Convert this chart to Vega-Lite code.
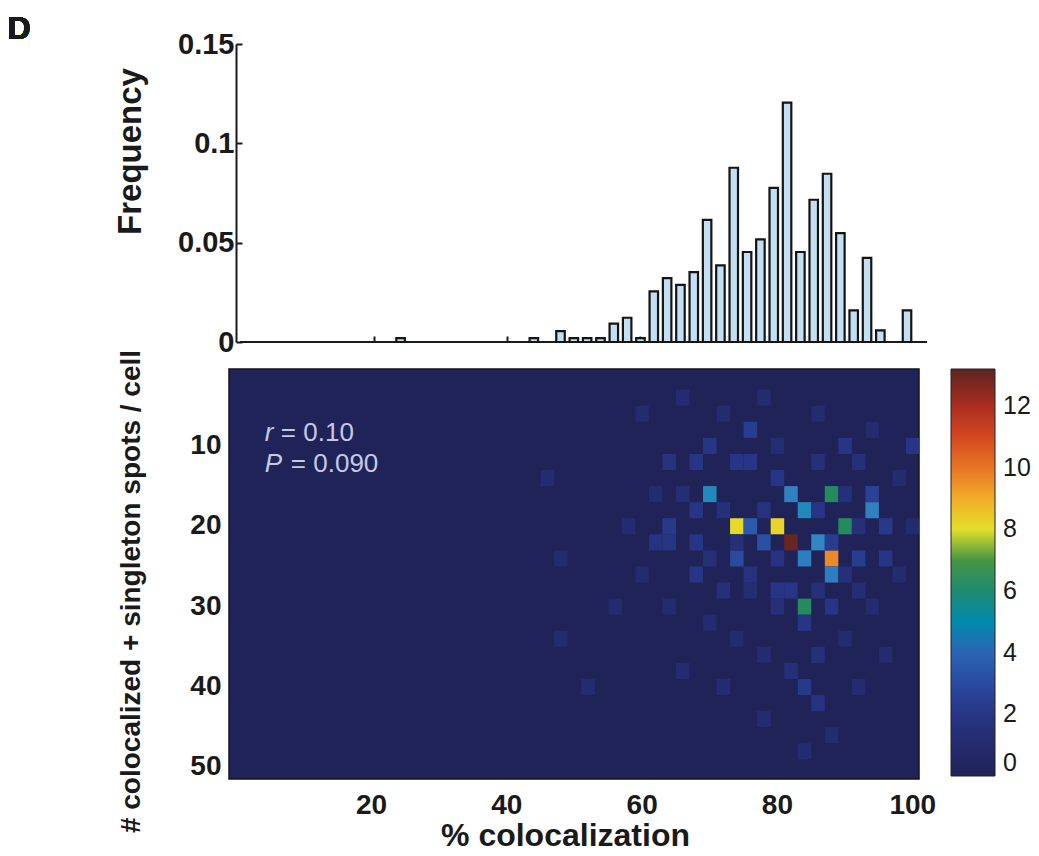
{
  "$schema": "https://vega.github.io/schema/vega-lite/v6.json",
  "background": "white",
  "padding": {"left": 7, "top": 13, "right": 4, "bottom": 4},
  "config": {
    "font": "Liberation Sans",
    "view": {"stroke": null},
    "axis": {"labelColor": "#1a1a1a", "titleColor": "#1a1a1a", "grid": false}
  },
  "spacing": 27,
  "bounds": "flush",
  "resolve": {
    "scale": {"x": "independent", "y": "independent", "color": "independent"},
    "legend": {"color": "independent"}
  },
  "vconcat": [
    {
      "width": 703,
      "height": 298,
      "data": {
        "values": [
          {"pct": 24, "freq": 0.002},
          {"pct": 44, "freq": 0.002},
          {"pct": 48, "freq": 0.0055},
          {"pct": 50, "freq": 0.002},
          {"pct": 52, "freq": 0.002},
          {"pct": 54, "freq": 0.002},
          {"pct": 56, "freq": 0.0092},
          {"pct": 58, "freq": 0.0122},
          {"pct": 60, "freq": 0.002},
          {"pct": 62, "freq": 0.0255},
          {"pct": 64, "freq": 0.0322},
          {"pct": 66, "freq": 0.0288},
          {"pct": 68, "freq": 0.0352},
          {"pct": 70, "freq": 0.0615},
          {"pct": 72, "freq": 0.0386},
          {"pct": 74, "freq": 0.0877},
          {"pct": 76, "freq": 0.0453},
          {"pct": 78, "freq": 0.0517},
          {"pct": 80, "freq": 0.0776},
          {"pct": 82, "freq": 0.1205},
          {"pct": 84, "freq": 0.0453},
          {"pct": 86, "freq": 0.0716},
          {"pct": 88, "freq": 0.0847},
          {"pct": 90, "freq": 0.0548},
          {"pct": 92, "freq": 0.0159},
          {"pct": 94, "freq": 0.0423},
          {"pct": 96, "freq": 0.0059},
          {"pct": 100, "freq": 0.0159}
        ]
      },
      "layer": [
        {
          "mark": {"type": "rule", "stroke": "#1a1a1a", "strokeWidth": 2},
          "encoding": {
            "x": {"datum": 0, "type": "quantitative", "scale": {"domain": [-1, 103], "nice": false, "zero": false}},
            "x2": {"datum": 103},
            "y": {"datum": 0, "type": "quantitative", "scale": {"domain": [0, 0.15], "nice": false}}
          }
        },
        {
          "mark": {"type": "bar", "width": 8.5, "fill": "#c4def2", "stroke": "#141414", "strokeWidth": 2.2},
          "encoding": {
            "x": {
              "field": "pct",
              "type": "quantitative",
              "scale": {"domain": [-1, 103], "nice": false, "zero": false},
              "axis": {
                "values": [20, 40, 60, 80, 100],
                "labels": false,
                "domain": false,
                "ticks": true,
                "tickSize": -6,
                "tickWidth": 2,
                "tickColor": "#1a1a1a",
                "title": null
              }
            },
            "y": {
              "field": "freq",
              "type": "quantitative",
              "scale": {"domain": [0, 0.15], "nice": false},
              "axis": {
                "values": [0, 0.05, 0.1, 0.15],
                "format": "~g",
                "offset": -7,
                "domain": true,
                "domainColor": "#1a1a1a",
                "domainWidth": 2,
                "tickSize": -6,
                "tickWidth": 2,
                "tickColor": "#1a1a1a",
                "labelFontSize": 29,
                "labelFontWeight": "bold",
                "labelPadding": 8,
                "title": "Frequency",
                "titleFontSize": 33,
                "titleFontWeight": "bold",
                "titleX": -89,
                "titleY": 107
              }
            }
          }
        },
        {
          "mark": {"type": "text", "text": "D", "align": "left", "baseline": "top", "fontSize": 32, "fontWeight": "bold", "color": "#1a1a1a"},
          "encoding": {
            "x": {"datum": -35.0, "type": "quantitative", "scale": {"domain": [-1, 103], "nice": false, "zero": false}},
            "y": {"datum": 0.1651, "type": "quantitative", "scale": {"domain": [0, 0.15], "nice": false}}
          }
        }
      ]
    },
    {
      "width": 690,
      "height": 410,
      "view": {"fill": "#1f2357", "stroke": "#151515", "strokeWidth": 1.5},
      "layer": [
        {
          "data": {
            "values": [
              {"pct_from": 73, "spots_from": 19, "n": 8.1},
              {"pct_from": 79, "spots_from": 19, "n": 8.2},
              {"pct_from": 81, "spots_from": 21, "n": 13},
              {"pct_from": 87, "spots_from": 23, "n": 9.6},
              {"pct_from": 69, "spots_from": 15, "n": 4.8},
              {"pct_from": 81, "spots_from": 15, "n": 4.6},
              {"pct_from": 87, "spots_from": 15, "n": 6.3},
              {"pct_from": 83, "spots_from": 17, "n": 4.8},
              {"pct_from": 93, "spots_from": 17, "n": 4.6},
              {"pct_from": 89, "spots_from": 19, "n": 6.3},
              {"pct_from": 75, "spots_from": 19, "n": 3.6},
              {"pct_from": 77, "spots_from": 21, "n": 3.2},
              {"pct_from": 85, "spots_from": 21, "n": 4.7},
              {"pct_from": 83, "spots_from": 23, "n": 4.5},
              {"pct_from": 73, "spots_from": 23, "n": 3.0},
              {"pct_from": 87, "spots_from": 25, "n": 4.5},
              {"pct_from": 83, "spots_from": 29, "n": 6.3},
              {"pct_from": 75, "spots_from": 7, "n": 2.4},
              {"pct_from": 69, "spots_from": 9, "n": 2},
              {"pct_from": 67, "spots_from": 11, "n": 2},
              {"pct_from": 63, "spots_from": 11, "n": 1.6},
              {"pct_from": 73, "spots_from": 11, "n": 2},
              {"pct_from": 75, "spots_from": 11, "n": 2},
              {"pct_from": 79, "spots_from": 13, "n": 2},
              {"pct_from": 89, "spots_from": 9, "n": 2},
              {"pct_from": 91, "spots_from": 11, "n": 1.5},
              {"pct_from": 99, "spots_from": 9, "n": 2},
              {"pct_from": 93, "spots_from": 15, "n": 2.6},
              {"pct_from": 67, "spots_from": 17, "n": 2},
              {"pct_from": 63, "spots_from": 19, "n": 2.2},
              {"pct_from": 61, "spots_from": 21, "n": 1.8},
              {"pct_from": 63, "spots_from": 21, "n": 2},
              {"pct_from": 67, "spots_from": 21, "n": 2},
              {"pct_from": 73, "spots_from": 21, "n": 1.5},
              {"pct_from": 87, "spots_from": 21, "n": 2.4},
              {"pct_from": 91, "spots_from": 23, "n": 2.4},
              {"pct_from": 95, "spots_from": 23, "n": 2},
              {"pct_from": 95, "spots_from": 19, "n": 2.2},
              {"pct_from": 67, "spots_from": 25, "n": 2},
              {"pct_from": 79, "spots_from": 27, "n": 2},
              {"pct_from": 81, "spots_from": 27, "n": 2},
              {"pct_from": 87, "spots_from": 29, "n": 2},
              {"pct_from": 79, "spots_from": 29, "n": 1.5},
              {"pct_from": 83, "spots_from": 31, "n": 2},
              {"pct_from": 83, "spots_from": 39, "n": 2.2},
              {"pct_from": 85, "spots_from": 41, "n": 1.8},
              {"pct_from": 81, "spots_from": 37, "n": 1.5},
              {"pct_from": 85, "spots_from": 35, "n": 1.5},
              {"pct_from": 59, "spots_from": 5, "n": 1},
              {"pct_from": 65, "spots_from": 3, "n": 1},
              {"pct_from": 71, "spots_from": 5, "n": 1},
              {"pct_from": 77, "spots_from": 3, "n": 1},
              {"pct_from": 85, "spots_from": 5, "n": 1},
              {"pct_from": 93, "spots_from": 7, "n": 1},
              {"pct_from": 97, "spots_from": 13, "n": 1},
              {"pct_from": 61, "spots_from": 15, "n": 1},
              {"pct_from": 57, "spots_from": 19, "n": 1},
              {"pct_from": 59, "spots_from": 25, "n": 1},
              {"pct_from": 63, "spots_from": 29, "n": 1},
              {"pct_from": 69, "spots_from": 31, "n": 1},
              {"pct_from": 73, "spots_from": 33, "n": 1},
              {"pct_from": 77, "spots_from": 35, "n": 1},
              {"pct_from": 89, "spots_from": 33, "n": 1},
              {"pct_from": 93, "spots_from": 29, "n": 1},
              {"pct_from": 97, "spots_from": 25, "n": 1},
              {"pct_from": 71, "spots_from": 39, "n": 1},
              {"pct_from": 77, "spots_from": 43, "n": 1},
              {"pct_from": 87, "spots_from": 45, "n": 1},
              {"pct_from": 91, "spots_from": 39, "n": 1},
              {"pct_from": 65, "spots_from": 37, "n": 1},
              {"pct_from": 55, "spots_from": 29, "n": 1},
              {"pct_from": 47, "spots_from": 23, "n": 1},
              {"pct_from": 47, "spots_from": 33, "n": 1},
              {"pct_from": 45, "spots_from": 13, "n": 1},
              {"pct_from": 51, "spots_from": 39, "n": 1},
              {"pct_from": 99, "spots_from": 19, "n": 1},
              {"pct_from": 95, "spots_from": 35, "n": 1},
              {"pct_from": 83, "spots_from": 47, "n": 1},
              {"pct_from": 75, "spots_from": 27, "n": 1.2},
              {"pct_from": 71, "spots_from": 27, "n": 1.4},
              {"pct_from": 89, "spots_from": 25, "n": 1.5},
              {"pct_from": 91, "spots_from": 19, "n": 1.5},
              {"pct_from": 85, "spots_from": 11, "n": 1.4},
              {"pct_from": 79, "spots_from": 9, "n": 1.2},
              {"pct_from": 71, "spots_from": 17, "n": 1.5},
              {"pct_from": 77, "spots_from": 17, "n": 1.6},
              {"pct_from": 79, "spots_from": 23, "n": 1.8},
              {"pct_from": 75, "spots_from": 25, "n": 1.6},
              {"pct_from": 85, "spots_from": 27, "n": 1.4},
              {"pct_from": 89, "spots_from": 15, "n": 1.5},
              {"pct_from": 85, "spots_from": 17, "n": 2},
              {"pct_from": 91, "spots_from": 27, "n": 1.2},
              {"pct_from": 69, "spots_from": 23, "n": 1.5},
              {"pct_from": 65, "spots_from": 15, "n": 1.2}
            ]
          },
          "mark": {"type": "rect", "binSpacing": 0, "clip": true},
          "encoding": {
            "x": {
              "field": "pct_from",
              "type": "quantitative",
              "bin": {"binned": true, "step": 2},
              "scale": {"domain": [-1, 101], "nice": false, "zero": false},
              "axis": {
                "values": [20, 40, 60, 80, 100],
                "ticks": false,
                "domain": false,
                "labelFontSize": 28,
                "labelFontWeight": "bold",
                "labelPadding": 12,
                "labelFlush": false,
                "title": "% colocalization",
                "titleFontSize": 32,
                "titleFontWeight": "bold",
                "titleX": 336,
                "titleY": 41
              }
            },
            "y": {
              "field": "spots_from",
              "type": "quantitative",
              "bin": {"binned": true, "step": 2},
              "scale": {"domain": [0.5, 51.5], "reverse": true, "nice": false, "zero": false},
              "axis": {
                "values": [10, 20, 30, 40, 50],
                "ticks": false,
                "domain": false,
                "labelFontSize": 28,
                "labelFontWeight": "bold",
                "labelPadding": 8,
                "labelFlush": false,
                "title": "# colocalized + singleton spots / cell",
                "titleFontSize": 28,
                "titleFontWeight": "bold",
                "titleX": -84,
                "titleY": 222
              }
            },
            "color": {
              "field": "n",
              "type": "quantitative",
              "scale": {
                "domain": [0, 1, 2, 3, 4, 4.7, 5.5, 6.5, 7.4, 8, 8.8, 9.6, 10.5, 11.5, 12.3, 13.2],
                "range": ["#1f2357", "#242b6e", "#283585", "#2a4aa0", "#2c64b4", "#3486c2", "#2f8a86", "#2e8a52", "#5e9c34", "#e2df2a", "#f2b82a", "#ec8a2a", "#e05a22", "#c8341e", "#9a2a20", "#5a2420"]
              },
              "legend": {
                "title": null,
                "orient": "right",
                "offset": 32,
                "padding": 0,
                "gradientLength": 407,
                "gradientThickness": 44,
                "gradientStrokeColor": "#222222",
                "gradientStrokeWidth": 1,
                "values": [0, 2, 4, 6, 8, 10, 12],
                "labelFontSize": 25,
                "labelColor": "#1a1a1a",
                "labelOffset": 8,
                "labelOverlap": false,
                "labelFlush": false
              }
            }
          }
        },
        {
          "data": {"values": [{"stat": "r", "value": "0.10"}, {"stat": "P", "value": "0.090"}]},
          "transform": [{"filter": "datum.stat === 'r'"}],
          "mark": {"type": "text", "align": "left", "baseline": "middle", "fontSize": 26, "fontStyle": "italic", "color": "#c5c9e6"},
          "encoding": {
            "x": {"datum": 4.3, "type": "quantitative"},
            "y": {"datum": 8.46, "type": "quantitative"},
            "text": {"field": "stat"}
          }
        },
        {
          "data": {"values": [{"stat": "r", "value": "0.10"}, {"stat": "P", "value": "0.090"}]},
          "transform": [{"filter": "datum.stat === 'r'"}, {"calculate": "'= ' + datum.value", "as": "rest"}],
          "mark": {"type": "text", "align": "left", "baseline": "middle", "fontSize": 26, "dx": 16, "color": "#c5c9e6"},
          "encoding": {
            "x": {"datum": 4.3, "type": "quantitative"},
            "y": {"datum": 8.46, "type": "quantitative"},
            "text": {"field": "rest"}
          }
        },
        {
          "data": {"values": [{"stat": "r", "value": "0.10"}, {"stat": "P", "value": "0.090"}]},
          "transform": [{"filter": "datum.stat === 'P'"}],
          "mark": {"type": "text", "align": "left", "baseline": "middle", "fontSize": 26, "fontStyle": "italic", "color": "#c5c9e6"},
          "encoding": {
            "x": {"datum": 4.3, "type": "quantitative"},
            "y": {"datum": 12.32, "type": "quantitative"},
            "text": {"field": "stat"}
          }
        },
        {
          "data": {"values": [{"stat": "r", "value": "0.10"}, {"stat": "P", "value": "0.090"}]},
          "transform": [{"filter": "datum.stat === 'P'"}, {"calculate": "'= ' + datum.value", "as": "rest"}],
          "mark": {"type": "text", "align": "left", "baseline": "middle", "fontSize": 26, "dx": 26, "color": "#c5c9e6"},
          "encoding": {
            "x": {"datum": 4.3, "type": "quantitative"},
            "y": {"datum": 12.32, "type": "quantitative"},
            "text": {"field": "rest"}
          }
        }
      ]
    }
  ]
}
